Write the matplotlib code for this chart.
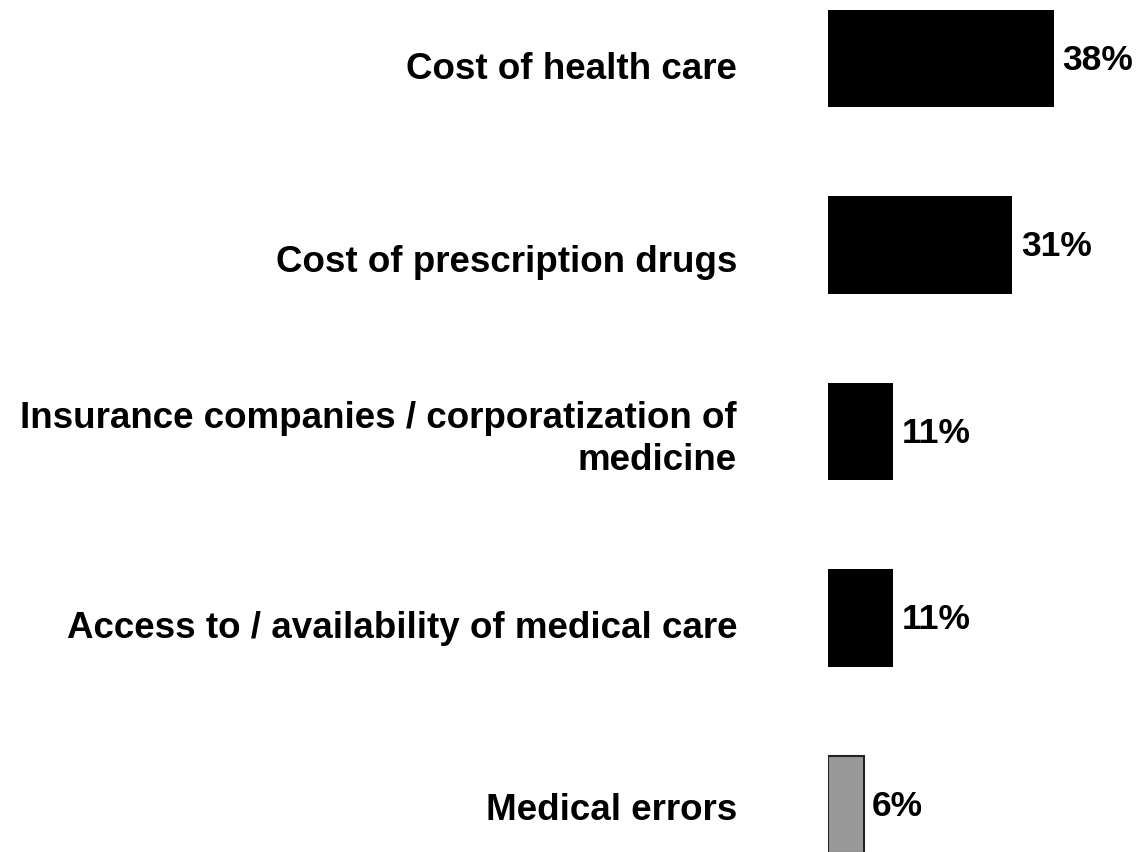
import matplotlib
matplotlib.use('Agg')
import matplotlib.pyplot as plt  # noqa: E402
from matplotlib.transforms import ScaledTranslation, blended_transform_factory  # noqa: E402

plt.rcParams['font.family'] = ['Liberation Sans', 'DejaVu Sans']

categories = ["Cost of health care",
              "Cost of prescription drugs",
              "Insurance companies / corporatization of\nmedicine",
              "Access to / availability of medical care",
              "Medical errors"]
values = [38, 31, 11, 11, 6]
colors = ['black', 'black', 'black', 'black', '#999999']

W, H, DPI = 1136, 852, 100
FS = 26.5
fig = plt.figure(figsize=(W / DPI, H / DPI), dpi=DPI)

# axes starts where the bars start; px per percent ~5.95
x0 = 828
px_per = 5.95
ax = fig.add_axes([x0 / W, 0, 1 - x0 / W, 1])
ax.set_xlim(0, (W - x0) / px_per)
step = 186.5
ax.set_ylim((H - 58.5) / step, -58.5 / step)
ax.set_axis_off()

y = list(range(len(values)))
ax.barh(y, values, height=0.525, color=colors,
        edgecolor=['black'] * 4 + ['#222222'], linewidth=[0, 0, 0, 0, 1.5])
for i, v in enumerate(values):
    ax.text(v + 1.4, i + 0.01, f"{v}%", va='center', ha='left',
            fontsize=25.5, fontweight='bold')

# category labels, right edge at ~737 px, sitting slightly below bar centre
label_dy = [11, 17, 8, 10, 6]
trans = blended_transform_factory(fig.transFigure, ax.transData)
for i, lab in enumerate(categories):
    off = ScaledTranslation(0, -label_dy[i] / DPI, fig.dpi_scale_trans)
    ax.text(737 / W, i, lab, transform=trans + off, ha='right', va='center',
            multialignment='right', fontsize=FS, fontweight='bold',
            linespacing=1.27)

fig.savefig("out.png", dpi=DPI)
